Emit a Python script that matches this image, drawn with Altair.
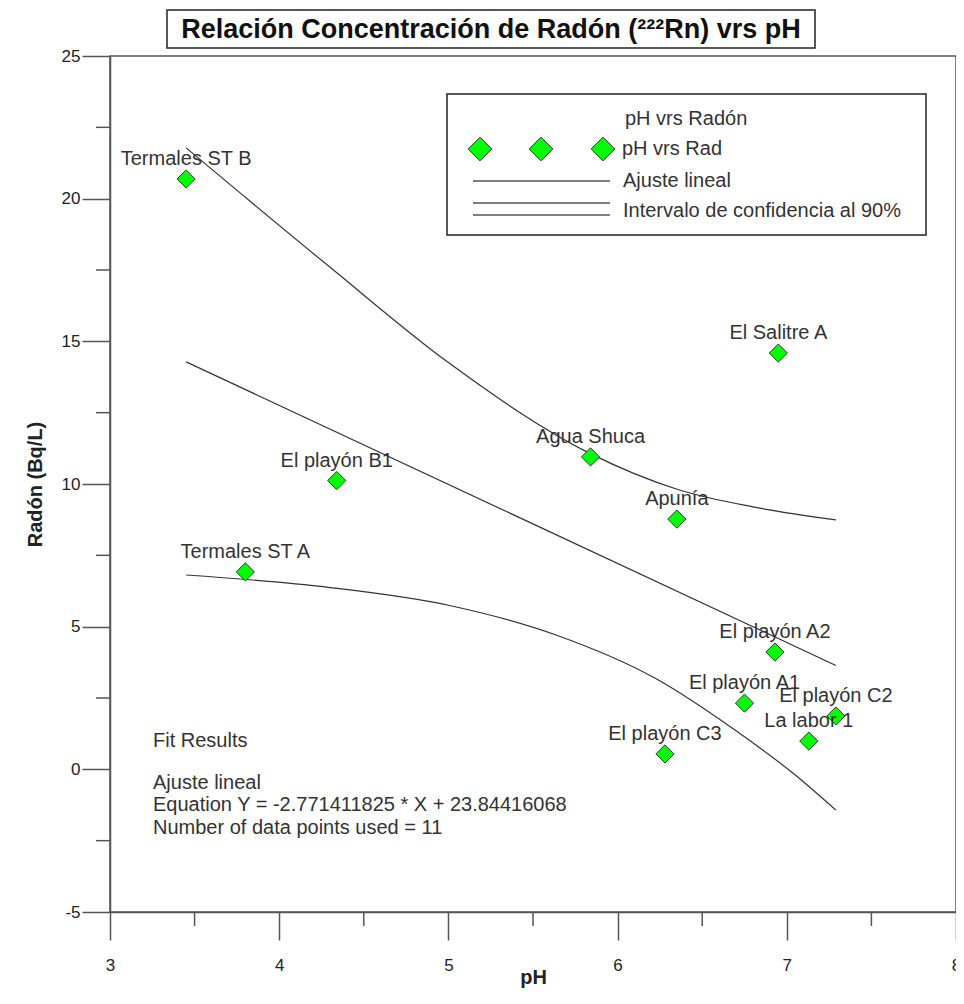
import altair as alt
import pandas as pd

FONT = "Liberation Sans"
TXT = "#222222"
LINE = "#333333"

# ---- data ----
names = ["Termales ST B", "Termales ST A", "El playón B1", "Agua Shuca", "Apunía",
         "El Salitre A", "El playón A2", "El playón A1", "El playón C2", "La labor 1",
         "El playón C3"]
ph = [3.45, 3.80, 4.34, 5.84, 6.35, 6.95, 6.93, 6.75, 7.29, 7.13, 6.28]
radon = [20.69, 6.92, 10.12, 10.95, 8.77, 14.59, 4.11, 2.32, 1.87, 0.99, 0.54]

fit_ph = [3.45, 7.29]
fit_radon = [14.28, 3.64]

upper_ph = [3.45, 4.31, 4.99, 5.83, 6.36, 6.80, 7.29]
upper_radon = [21.78, 17.55, 14.30, 11.09, 9.80, 9.20, 8.74]

lower_ph = [3.45, 4.29, 5.00, 5.64, 6.22, 6.70, 7.05, 7.29]
lower_radon = [6.81, 6.38, 5.75, 4.70, 3.20, 1.35, -0.20, -1.43]

x_major = [3, 4, 5, 6, 7, 8]
x_minor = [3.5, 4.5, 5.5, 6.5, 7.5]
y_major = [-5, 0, 5, 10, 15, 20, 25]
y_minor = [-2.5, 2.5, 7.5, 12.5, 17.5, 22.5]

title_text = "Relación Concentración de Radón (²²²Rn) vrs pH"
fit_lines = ["Fit Results", "Ajuste lineal",
             "Equation Y = -2.771411825 * X + 23.84416068",
             "Number of data points used = 11"]
legend_texts = ["pH vrs Radón", "pH vrs Rad", "Ajuste lineal",
                "Intervalo de confidencia al 90%"]

# ---- tables ----
pts = pd.DataFrame({"name": names, "ph": ph, "radon": radon})
fit_df = pd.DataFrame({"ph": fit_ph, "radon": fit_radon})
up_df = pd.DataFrame({"ph": upper_ph, "radon": upper_radon})
lo_df = pd.DataFrame({"ph": lower_ph, "radon": lower_radon})
xmin_df = pd.DataFrame({"ph": x_minor})
ymin_df = pd.DataFrame({"radon": y_minor})
one = pd.DataFrame({"k": [0]})

W, H = 846, 856

x_enc = alt.X("ph:Q",
              scale=alt.Scale(domain=[3, 8], nice=False, zero=False),
              axis=alt.Axis(values=x_major, tickSize=28, tickWidth=1.5, tickColor="#555555",
                            domainColor="#555555", domainWidth=1.5, grid=False,
                            labelFont=FONT, labelFontSize=17, labelColor=TXT,
                            labelPadding=17, labelFlush=False, labelOverlap=False,
                            labelBound=False, labelExpr="'' + datum.value",
                            title="pH", titleFont=FONT, titleFontSize=20,
                            titleFontWeight="bold", titleColor=TXT,
                            titleX=423, titleY=65, titleAlign="center",
                            titleBaseline="middle"))
y_enc = alt.Y("radon:Q",
              scale=alt.Scale(domain=[-5, 25], nice=False, zero=False),
              axis=alt.Axis(values=y_major, tickSize=28, tickWidth=1.5, tickColor="#555555",
                            domainColor="#555555", domainWidth=1.5, grid=False,
                            labelFont=FONT, labelFontSize=17, labelColor=TXT,
                            labelPadding=2, labelOverlap=False,
                            labelExpr="'' + datum.value",
                            title="Radón (Bq/L)", titleFont=FONT, titleFontSize=20,
                            titleFontWeight="bold", titleColor=TXT,
                            titleX=-75, titleY=428, titleAngle=270,
                            titleAlign="center", titleBaseline="middle"))

layers = []

# data layers
upper = alt.Chart(up_df).mark_line(color=LINE, strokeWidth=1.2, interpolate="monotone").encode(x=x_enc, y=y_enc)
lower = alt.Chart(lo_df).mark_line(color=LINE, strokeWidth=1.2, interpolate="monotone").encode(x=x_enc, y=y_enc)
fit = alt.Chart(fit_df).mark_line(color=LINE, strokeWidth=1.2).encode(x=x_enc, y=y_enc)
points = alt.Chart(pts).mark_point(shape="diamond", filled=True, fill="#00ff00", stroke="#333333",
                                   strokeWidth=1, size=330, opacity=1).encode(x=x_enc, y=y_enc)
labels = alt.Chart(pts).mark_text(font=FONT, fontSize=20, color="#333333", dy=-20,
                                  align="center", baseline="middle").encode(x=x_enc, y=y_enc, text="name:N")

# minor ticks
ymin = alt.Chart(ymin_df).mark_rule(color="#555555", strokeWidth=1.5).encode(
    y=y_enc, x=alt.value(-14), x2=alt.value(0))
xmin = alt.Chart(xmin_df).mark_rule(color="#555555", strokeWidth=1.5).encode(
    x=x_enc, y=alt.value(H), y2=alt.value(H + 14))

layers += [ymin, xmin, upper, lower, fit, points, labels]

# title box
layers.append(alt.Chart(one).mark_rect(fill="white", stroke="#222222", strokeWidth=1.5).encode(
    x=alt.value(57), x2=alt.value(705), y=alt.value(-46), y2=alt.value(-8)))
layers.append(alt.Chart(one).mark_text(text=title_text, font=FONT, fontSize=27, fontWeight="bold",
                                       color="#111111", align="center", baseline="middle").encode(
    x=alt.value(381), y=alt.value(-26)))

# legend box
layers.append(alt.Chart(one).mark_rect(fill="white", stroke="#222222", strokeWidth=1.5).encode(
    x=alt.value(337), x2=alt.value(816), y=alt.value(38), y2=alt.value(179)))
for lx in (370, 431, 493):
    layers.append(alt.Chart(one).mark_point(shape="diamond", filled=True, fill="#00ff00",
                                            stroke="#333333", strokeWidth=1, size=560, opacity=1).encode(
        x=alt.value(lx), y=alt.value(93)))
for ly in (125, 147, 159):
    layers.append(alt.Chart(one).mark_rule(color="#555555", strokeWidth=1.5).encode(
        x=alt.value(363), x2=alt.value(500), y=alt.value(ly)))
for txt, lx, ly in zip(legend_texts, (515, 512, 513, 513), (63, 93, 125, 155)):
    layers.append(alt.Chart(one).mark_text(text=txt, font=FONT, fontSize=20, color="#333333",
                                           align="left", baseline="middle").encode(
        x=alt.value(lx), y=alt.value(ly)))

# fit results
for txt, ly in zip(fit_lines, (685, 727, 749, 772)):
    layers.append(alt.Chart(one).mark_text(text=txt, font=FONT, fontSize=20, color="#333333",
                                           align="left", baseline="middle").encode(
        x=alt.value(43), y=alt.value(ly)))

chart = alt.layer(*layers).properties(
    width=W, height=H,
    padding={"left": 102, "top": 48, "right": 0, "bottom": 76},
    autosize=alt.AutoSizeParams(type="none"),
    background="white",
).configure_view(stroke="#555555", strokeWidth=1.5)

chart.save("out.html", embed_options={"renderer": "svg", "actions": False})
